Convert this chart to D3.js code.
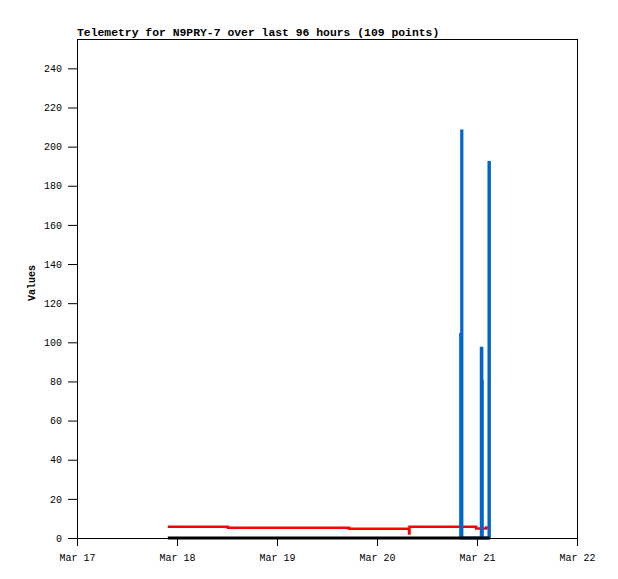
<!DOCTYPE html>
<meta charset="utf-8">
<style>
body{ margin: 0; background: white; }
text{ font-family: "Liberation Mono", "DejaVu Sans Mono", monospace; }
.tick line{ stroke: black; }
.tick text{ font-size: 10px; fill: black; }
</style>
<body>
<svg id="chart" width="618" height="579"></svg>
<script src="https://cdn.jsdelivr.net/npm/d3@7"></script>
<script>

// hours since Mar 17 00:00
var redHours   = [21.8, 36.2, 65.3, 79.7, 79.8, 95.8, 98.2, 98.6],
    redValues  = [5.7, 5.2, 4.75, 2.3, 5.7, 4.8, 5.4, 5.4]

var blueHours  = [91.9, 92.05, 92.3, 92.4, 96.9, 97.0, 97.2, 97.3, 98.7, 98.85, 99.0],
    blueValues = [0, 104, 208, 0, 0, 97, 80, 0, 0, 192, 0]

var blackHours  = [21.8, 99.0],
    blackValues = [0, 0]

var yTicks = [0, 20, 40, 60, 80, 100, 120, 140, 160, 180, 200, 220, 240]
var xTickLabels = ['Mar 17', 'Mar 18', 'Mar 19', 'Mar 20', 'Mar 21', 'Mar 22']

var start = new Date(2024, 2, 17)
var mLeft = 77, mRight = 577, mTop = 39, mBottom = 538

var x = d3.scaleTime()
    .domain([start, d3.timeDay.offset(start, 5)])
    .range([mLeft, mRight])
var y = d3.scaleLinear().domain([0, 255]).range([mBottom, mTop])

var svg = d3.select('#chart')

function pts(hours, vals){
  return hours.map(function(h, i){ return [d3.timeMinute.offset(start, Math.round(h * 60)), vals[i]] })
}

var line = d3.line().x(function(d){ return x(d[0]) }).y(function(d){ return y(d[1]) })

// axes
var xAxis = d3.axisBottom(x)
    .tickValues(xTickLabels.map(function(_, i){ return d3.timeDay.offset(start, i) }))
    .tickFormat(function(d, i){ return xTickLabels[i] })
    .tickSize(8).tickPadding(8)
svg.append('g').attr('transform', 'translate(0,' + mBottom + ')').call(xAxis)
    .call(function(g){ g.select('.domain').remove() })

var yAxis = d3.axisLeft(y).tickValues(yTicks).tickSize(9).tickPadding(6)
svg.append('g').attr('transform', 'translate(' + mLeft + ',0)').call(yAxis)
    .call(function(g){ g.select('.domain').remove() })

svg.selectAll('.tick text').style('font-family', '"Liberation Mono", monospace')

// series
svg.append('path').datum(pts(redHours, redValues))
    .attr('d', line.curve(d3.curveStepAfter))
    .attr('fill', 'none').attr('stroke', '#ff0000').attr('stroke-width', 2.5)

svg.append('path').datum(pts(blueHours, blueValues))
    .attr('d', line.curve(d3.curveStepAfter))
    .attr('fill', 'none').attr('stroke', '#0066cc').attr('stroke-width', 2.8)

svg.append('path').datum(pts(blackHours, blackValues))
    .attr('d', line.curve(d3.curveLinear))
    .attr('fill', 'none').attr('stroke', 'black').attr('stroke-width', 3)

// border
svg.append('rect')
    .attr('x', mLeft + 0.5).attr('y', mTop + 0.5)
    .attr('width', mRight - mLeft).attr('height', mBottom - mTop)
    .attr('fill', 'none').attr('stroke', 'black').attr('stroke-width', 1)

svg.append('text')
    .attr('x', mLeft).attr('y', 36)
    .style('font-size', '11.4px').style('font-weight', 'bold')
    .text('Telemetry for N9PRY-7 over last 96 hours (109 points)')

svg.append('text')
    .attr('transform', 'translate(35,283) rotate(-90)')
    .attr('text-anchor', 'middle')
    .style('font-size', '10px').style('font-weight', 'bold')
    .text('Values')

</script>
</body>
